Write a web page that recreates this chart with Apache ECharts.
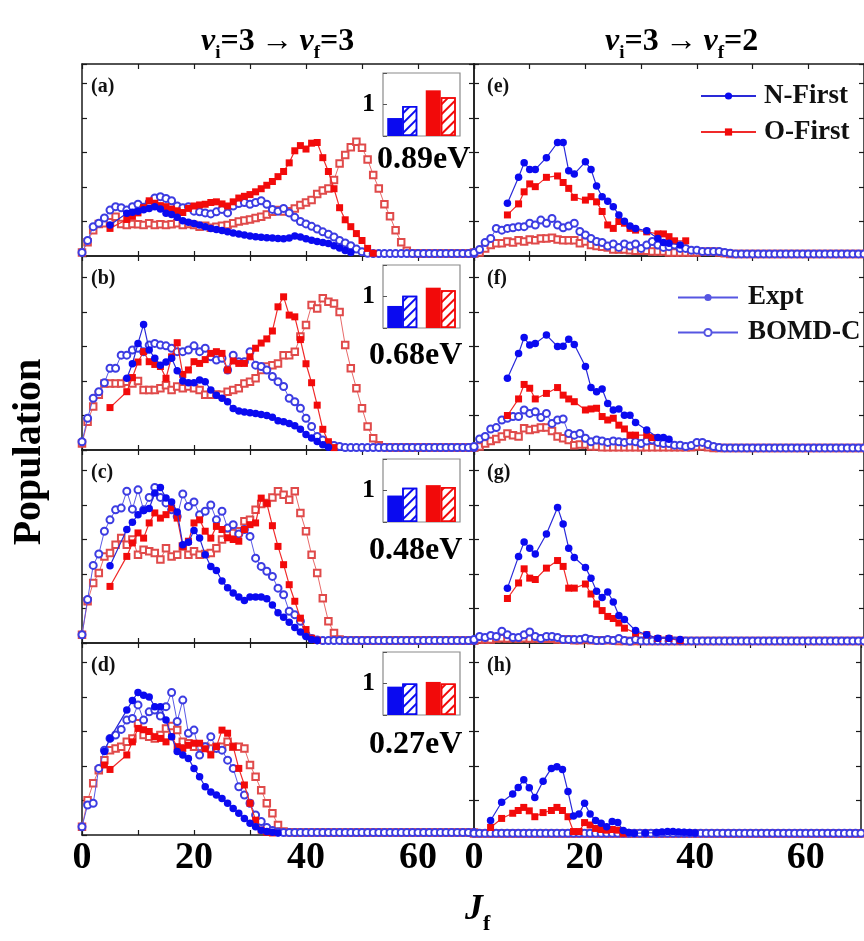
<!DOCTYPE html>
<html>
<head>
<meta charset="utf-8">
<script src="https://cdn.jsdelivr.net/npm/echarts@6.0.0/dist/echarts.min.js"></script>
<style>
html, body { margin: 0; padding: 0; background: #fff; }
#main { width: 864px; height: 941px; }
</style>
</head>
<body>
<div id="main"></div>
<script>
var SERIF = '"Liberation Serif", "Times New Roman", serif';

// J grid of the BOMD-C curves (0..70)
var jAll = [];
for (var j = 0; j <= 70; j++) jAll.push(j);

// ---- panel (a) ----
var jA = [5,8,9,10,11,12,13,14,15,16,17,18,19,20,21,22,23,24,25,26,27,28,29,30,31,32,33,34,35,36,37,38,39,40,41,42,43,44,45,46,47,48,49,50,51,52];
var aNExpt = [0.9,1.24,1.27,1.3,1.34,1.38,1.43,1.36,1.24,1.2,1.12,1.02,0.98,0.94,0.9,0.85,0.8,0.77,0.74,0.7,0.67,0.64,0.61,0.58,0.56,0.54,0.53,0.52,0.51,0.5,0.52,0.58,0.55,0.5,0.46,0.42,0.39,0.36,0.3,0.23,0.16,0.1];
var aOExpt = [0.8,1.06,1.15,1.25,1.4,1.6,1.53,1.46,1.43,1.36,1.31,1.26,1.38,1.45,1.48,1.5,1.55,1.57,1.51,1.45,1.57,1.68,1.73,1.78,1.86,1.95,2.05,2.16,2.3,2.45,2.7,3.05,3.2,3.1,3.27,3.29,2.85,2.45,1.95,1.4,1.05,0.85,0.65,0.45,0.22,0.08];
var aNBomd = [
  0.1,0.45,0.85,0.95,1.1,1.33,1.43,1.4,1.33,1.43,
  1.5,1.41,1.55,1.68,1.72,1.67,1.6,1.45,1.4,1.43,
  1.3,1.28,1.25,1.22,1.28,1.35,1.25,1.45,1.52,1.55,
  1.5,1.55,1.6,1.5,1.35,1.3,1.38,1.25,1.12,1.0,
  0.93,0.86,0.78,0.7,0.63,0.55,0.45,0.38,0.3,0.2,
  0.12,0.08,0.07,0.07,0.07,0.07,0.07,0.07,0.07,0.07,
  0.07,0.07,0.07,0.07,0.07,0.07,0.07,0.07,0.07,0.07,0.07];
var aOBomd = [
  0.1,0.4,0.75,0.93,0.95,0.98,1.14,0.93,0.9,0.93,
  0.92,0.9,0.95,0.9,0.92,0.9,0.92,0.95,0.9,0.93,
  0.9,0.85,0.88,0.82,0.85,0.88,0.9,0.95,1.0,1.03,
  1.06,1.1,1.14,1.2,1.28,1.33,1.29,1.3,1.38,1.48,
  1.55,1.62,1.8,1.9,1.96,2.2,2.68,2.93,3.15,3.31,
  3.14,2.8,2.35,1.96,1.5,1.15,0.75,0.4,0.15,0.08,
  0.07,0.07,0.07,0.07,0.07,0.07,0.07,0.07,0.07,0.07,0.07];

// ---- panel (b) ----
var jB = [5,8,9,10,11,12,13,14,15,16,17,18,19,20,21,22,23,24,25,26,27,28,29,30,31,32,33,34,35,36,37,38,39,40,41,42,43,44,45];
var bNExpt = [null,2.08,2.5,3.09,3.64,2.9,2.66,2.46,2.55,2.66,2.3,2.0,1.95,1.95,2.03,1.98,1.74,1.59,1.5,1.4,1.2,1.13,1.1,1.08,1.06,1.03,1.0,0.95,0.85,0.82,0.77,0.7,0.6,0.45,0.35,0.25,0.15,0.08];
var bOExpt = [1.23,1.69,2.1,2.55,2.85,2.56,2.48,2.42,2.08,2.7,3.11,2.19,2.32,2.56,2.51,2.62,2.8,2.85,2.8,2.32,2.58,2.51,2.51,2.7,2.95,3.1,3.22,3.45,4.15,4.44,3.91,3.86,3.2,2.5,1.95,1.3,0.6,0.24,0.07];
var bNBomd = [
  0.24,0.92,1.5,1.69,1.95,2.37,2.37,2.75,2.75,2.9,
  2.95,2.85,3.04,3.09,3.04,3.02,2.95,2.85,2.85,2.9,
  3.02,2.85,2.95,2.7,2.61,2.66,2.32,2.75,2.56,2.56,
  2.85,2.46,2.42,2.32,2.13,1.98,1.84,1.5,1.4,1.21,
  0.92,0.68,0.39,0.29,0.19,0.13,0.1,0.07,0.07,0.07,
  0.07,0.07,0.07,0.07,0.07,0.07,0.07,0.07,0.07,0.07,
  0.07,0.07,0.07,0.07,0.07,0.07,0.07,0.07,0.07,0.07,0.07];
var bOBomd = [
  0.19,0.82,1.26,1.6,1.93,1.93,1.93,1.93,1.98,1.93,
  2.0,1.74,1.74,1.74,1.79,1.88,1.74,1.84,1.79,1.84,
  1.79,1.74,1.6,1.6,1.61,1.6,1.69,1.74,1.79,1.93,
  1.98,2.08,2.32,2.42,2.46,2.51,2.75,2.75,2.85,3.29,
  3.62,4.2,4.1,4.4,4.3,4.25,4.0,3.04,2.37,1.79,
  1.21,0.68,0.34,0.14,0.08,0.07,0.07,0.07,0.07,0.07,
  0.07,0.07,0.07,0.07,0.07,0.07,0.07,0.07,0.07,0.07,0.07];

// ---- panel (c) ----
var jC = [5,8,9,10,11,12,13,14,15,16,17,18,19,20,21,22,23,24,25,26,27,28,29,30,31,32,33,34,35,36,37,38,39,40,41,42];
var cNExpt = [2.24,3.29,3.5,3.72,3.84,3.9,4.35,4.51,4.2,4.09,3.8,2.85,2.92,3.26,3.04,2.56,2.22,2.1,1.8,1.6,1.45,1.33,1.23,1.33,1.33,1.33,1.28,1.1,0.88,0.75,0.6,0.45,0.32,0.19,0.1,0.07];
var cOExpt = [1.64,2.51,2.9,3.19,3.04,3.48,3.77,3.62,3.72,3.91,3.62,2.8,2.95,3.48,3.57,3.24,3.04,3.38,3.29,3.05,3.0,2.95,3.29,3.43,3.48,4.2,4.05,3.4,2.8,2.27,1.69,1.21,0.72,0.39,0.14,0.08];
var cNBomd = [
  0.24,1.26,2.25,2.58,3.24,3.57,3.86,3.91,4.4,3.88,
  4.44,3.86,4.22,4.51,4.22,4.06,3.86,3.67,4.32,3.96,
  4.09,3.72,3.82,4.0,3.57,3.82,3.33,3.43,3.16,3.29,
  3.09,2.46,2.22,2.08,1.93,1.59,1.4,0.92,0.82,0.63,
  0.24,0.13,0.09,0.07,0.07,0.07,0.07,0.07,0.07,0.07,
  0.07,0.07,0.07,0.07,0.07,0.07,0.07,0.07,0.07,0.07,
  0.07,0.07,0.07,0.07,0.07,0.07,0.07,0.07,0.07,0.07,0.07];
var cOBomd = [
  0.24,1.21,1.74,2.03,2.51,2.61,2.85,3.04,2.85,3.0,
  2.56,2.7,2.66,2.61,2.42,2.75,2.51,2.56,2.8,2.56,
  2.66,2.56,2.58,2.61,2.75,3.0,3.14,3.19,3.24,3.53,
  3.57,3.86,4.03,4.06,4.22,4.4,4.3,4.15,4.4,3.77,
  3.24,2.56,2.03,1.3,0.63,0.29,0.1,0.07,0.07,0.07,
  0.07,0.07,0.07,0.07,0.07,0.07,0.07,0.07,0.07,0.07,
  0.07,0.07,0.07,0.07,0.07,0.07,0.07,0.07,0.07,0.07,0.07];

// ---- panel (d) ----
var jD = [4,5,8,9,10,11,12,13,14,15,16,17,18,19,20,21,22,23,24,25,26,27,28,29,30,31,32,33,34,35];
var dNExpt = [2.42,2.8,3.62,3.9,4.13,4.05,4.0,3.72,3.72,3.33,2.85,2.42,2.32,2.22,1.93,1.69,1.4,1.25,1.16,1.06,0.92,0.77,0.63,0.48,0.34,0.24,0.14,0.1,0.08,0.06];
var dOExpt = [2.03,1.9,2.32,2.7,3.09,3.05,3.0,2.85,2.8,2.7,2.85,2.56,2.51,2.6,2.66,2.66,2.5,2.32,2.56,3.04,2.95,2.56,1.93,1.45,0.92,0.43,0.14,0.08,0.06];
var dNBomd = [
  0.24,0.87,0.92,1.93,2.46,2.8,2.9,3.06,3.33,3.38,
  3.77,3.33,3.57,3.62,3.45,3.72,4.13,3.29,3.91,2.95,
  3.04,2.32,2.56,2.85,2.51,2.46,2.17,1.93,1.4,1.16,
  0.92,0.58,0.39,0.22,0.13,0.09,0.07,0.07,0.07,0.07,
  0.07,0.07,0.07,0.07,0.07,0.07,0.07,0.07,0.07,0.07,
  0.07,0.07,0.07,0.07,0.07,0.07,0.07,0.07,0.07,0.07,
  0.07,0.07,0.07,0.07,0.07,0.07,0.07,0.07,0.07,0.07,0.07];
var dOBomd = [
  0.24,1.01,1.5,1.88,2.17,2.46,2.51,2.56,2.7,2.8,
  3.24,2.9,2.85,2.8,2.9,3.09,3.16,3.04,2.7,2.66,
  2.56,2.56,2.56,2.51,2.56,2.56,2.7,2.56,2.56,2.51,
  2.03,1.69,1.3,0.92,0.63,0.29,0.1,0.08,0.07,0.07,
  0.07,0.07,0.07,0.07,0.07,0.07,0.07,0.07,0.07,0.07,
  0.07,0.07,0.07,0.07,0.07,0.07,0.07,0.07,0.07,0.07,
  0.07,0.07,0.07,0.07,0.07,0.07,0.07,0.07,0.07,0.07,0.07];

// ---- panel (e) ----
var jE = [6,8,9,10,11,13,15,16,17,18,20,21,22,23,24,25,26,27,28,29,31,33,34,35,36,37,38];
var eNExpt = [1.53,2.28,2.7,2.51,2.51,2.85,3.29,3.29,2.47,2.38,2.73,2.51,2.03,1.72,1.59,1.43,1.19,1.01,0.87,0.8,0.73,0.51,0.39,0.37,null,0.32,null];
var eOExpt = [1.19,1.51,1.86,2.09,2.01,2.28,2.32,2.13,1.96,1.7,1.62,1.72,1.57,1.29,0.9,0.8,1.0,0.95,0.8,0.75,0.7,0.64,0.64,0.56,0.44,null,0.44];
var eNBomd = [
  0.1,0.19,0.39,0.51,0.8,0.75,0.8,0.82,0.85,0.85,
  0.95,0.9,1.04,0.95,1.09,0.9,0.82,0.87,0.95,0.71,
  0.61,0.51,0.42,0.39,0.29,0.35,0.25,0.35,0.29,0.35,
  0.22,0.32,0.42,0.32,0.25,0.27,0.32,0.22,0.22,0.17,
  0.17,0.13,0.13,0.13,0.13,0.1,0.08,0.06,0.06,0.06,
  0.06,0.06,0.06,0.06,0.06,0.06,0.06,0.06,0.06,0.06,
  0.06,0.06,0.06,0.06,0.06,0.06,0.06,0.06,0.06,0.06,0.06];
var eOBomd = [
  0.1,0.1,0.22,0.32,0.37,0.37,0.42,0.39,0.46,0.42,
  0.48,0.46,0.51,0.51,0.53,0.48,0.46,0.46,0.46,0.37,
  0.42,0.32,0.29,0.27,0.25,0.19,0.19,0.19,0.17,0.15,
  0.15,0.15,0.13,0.13,0.13,0.1,0.1,0.1,0.1,0.1,
  0.1,0.12,0.12,0.13,0.1,0.08,0.06,0.06,0.06,0.06,
  0.06,0.06,0.06,0.06,0.06,0.06,0.06,0.06,0.06,0.06,
  0.06,0.06,0.06,0.06,0.06,0.06,0.06,0.06,0.06,0.06,0.06];

// ---- panel (f) ----
var jF = [6,8,9,10,11,13,15,16,17,18,20,21,22,23,24,25,26,27,28,29,31,32,33,34,35];
var fNExpt = [2.08,2.8,3.26,3.04,3.09,3.33,3.0,3.01,3.21,3.06,2.42,1.81,1.69,1.77,1.35,1.16,1.19,1.01,1.01,0.8,0.58,null,0.36,0.36,0.31];
var fOExpt = [1.0,1.48,1.9,1.79,1.48,1.64,1.81,1.59,1.48,1.4,1.16,1.19,1.21,0.97,0.87,0.92,0.72,0.61,0.43,0.43,0.43,0.36];
var fNBomd = [
  0.1,0.32,0.39,0.61,0.65,0.87,0.92,0.97,0.97,1.16,
  1.06,1.11,0.94,1.06,0.77,0.87,0.9,0.48,0.43,0.48,
  0.34,0.24,0.29,0.26,0.22,0.26,0.24,0.22,0.26,0.24,
  0.19,0.26,0.29,0.22,0.19,0.19,0.14,0.14,0.1,0.13,
  0.22,0.22,0.16,0.1,0.07,0.06,0.06,0.06,0.06,0.06,
  0.06,0.06,0.06,0.06,0.06,0.06,0.06,0.06,0.06,0.06,
  0.06,0.06,0.06,0.06,0.06,0.06,0.06,0.06,0.06,0.06,0.06];
var fOBomd = [
  0.08,0.1,0.19,0.26,0.32,0.39,0.48,0.43,0.39,0.63,
  0.58,0.61,0.65,0.65,0.55,0.39,0.34,0.29,0.14,0.16,
  0.16,0.1,0.1,0.08,0.08,0.08,0.08,0.08,0.08,0.08,
  0.08,0.08,0.08,0.08,0.08,0.08,0.08,0.08,0.08,0.08,
  0.1,0.1,0.08,0.06,0.06,0.06,0.06,0.06,0.06,0.06,
  0.06,0.06,0.06,0.06,0.06,0.06,0.06,0.06,0.06,0.06,
  0.06,0.06,0.06,0.06,0.06,0.06,0.06,0.06,0.06,0.06,0.06];

// ---- panel (g) ----
var jG = [6,8,9,10,11,13,15,16,17,18,20,21,22,23,24,25,26,27,29,31,33,35,37];
var gNExpt = [1.59,2.51,2.93,2.75,2.58,3.16,3.93,3.45,2.75,2.48,2.19,1.88,1.5,1.32,1.48,1.19,0.8,0.68,0.36,0.24,0.14,0.14,0.1];
var gOExpt = [1.29,1.74,2.15,1.88,1.84,2.17,2.39,2.22,1.59,1.59,1.71,1.42,1.13,0.94,0.77,0.71,0.58,0.43,0.29,0.24,0.13,0.13,0.07];
var gNBomd = [
  0.1,0.19,0.16,0.22,0.19,0.34,0.24,0.16,0.16,0.24,
  0.32,0.19,0.13,0.19,0.19,0.16,0.1,0.1,0.1,0.1,
  0.14,0.1,0.07,0.07,0.1,0.07,0.13,0.07,0.05,0.1,
  0.06,0.06,0.06,0.06,0.06,0.06,0.06,0.06,0.06,0.06,
  0.06,0.06,0.06,0.06,0.06,0.06,0.06,0.06,0.06,0.06,
  0.06,0.06,0.06,0.06,0.06,0.06,0.06,0.06,0.06,0.06,
  0.06,0.06,0.06,0.06,0.06,0.06,0.06,0.06,0.06,0.06,0.06];
var gOBomd = [
  0.07,0.1,0.1,0.1,0.13,0.14,0.13,0.14,0.13,0.14,
  0.13,0.13,0.12,0.12,0.12,0.1,0.1,0.1,0.08,0.08,
  0.1,0.08,0.08,0.08,0.08,0.08,0.06,0.06,0.06,0.06,
  0.06,0.06,0.06,0.06,0.06,0.06,0.06,0.06,0.06,0.06,
  0.06,0.06,0.06,0.06,0.06,0.06,0.06,0.06,0.06,0.06,
  0.06,0.06,0.06,0.06,0.06,0.06,0.06,0.06,0.06,0.06,
  0.06,0.06,0.06,0.06,0.06,0.06,0.06,0.06,0.06,0.06,0.06];

// ---- panel (h) ----
var jH = [3,5,7,8,9,10,11,12.5,14,15,16,17,18,19,20,21,22,23,24,25,26,27,28,29,31,33,34,35,36,37,38,39,40];
var hNExpt = [0.42,0.95,1.19,1.38,1.6,1.37,1.09,1.56,1.93,1.98,1.9,1.26,0.55,0.61,0.92,0.61,0.42,0.34,0.24,0.39,0.36,0.13,0.07,0.05,0.06,0.07,0.09,0.1,0.1,0.09,0.08,0.07,0.06];
var hOExpt = [0.22,0.48,0.63,0.71,0.8,0.7,0.53,0.65,0.71,0.8,0.71,0.53,0.1,0.1,0.36,0.29,0.19,0.16,0.14,0.16,0.14,0.05];
var hNBomd = [
  0.05,0.05,0.05,0.05,0.05,0.05,0.05,0.05,0.05,0.05,
  0.05,0.05,0.05,0.05,0.05,0.05,0.05,0.05,0.05,0.05,
  0.05,0.05,0.05,0.05,0.05,0.05,0.05,0.05,0.05,0.05,
  0.05,0.05,0.05,0.05,0.05,0.05,0.05,0.05,0.05,0.05,
  0.05,0.05,0.05,0.05,0.05,0.05,0.05,0.05,0.05,0.05,
  0.05,0.05,0.05,0.05,0.05,0.05,0.05,0.05,0.05,0.05,
  0.05,0.05,0.05,0.05,0.05,0.05,0.05,0.05,0.05,0.05,0.05];
var hOBomd = [
  0.04,0.04,0.04,0.04,0.04,0.04,0.04,0.04,0.04,0.04,
  0.04,0.04,0.04,0.04,0.04,0.04,0.04,0.04,0.04,0.04,
  0.04,0.04,0.04,0.04,0.04,0.04,0.04,0.04,0.04,0.04,
  0.04,0.04,0.04,0.04,0.04,0.04,0.04,0.04,0.04,0.04,
  0.04,0.04,0.04,0.04,0.04,0.04,0.04,0.04,0.04,0.04,
  0.04,0.04,0.04,0.04,0.04,0.04,0.04,0.04,0.04,0.04,
  0.04,0.04,0.04,0.04,0.04,0.04,0.04,0.04,0.04,0.04,0.04];

// ---- insets (a)-(d): [N-First, O-First] ----
var insetCats = ['N-First', 'O-First'];
var insetExpt = [[0.57, 1.45], [0.7, 1.28], [0.84, 1.17], [0.9, 1.05]];
var insetBomd = [[0.95, 1.23], [1.02, 1.2], [1.09, 1.11], [1.0, 1.0]];
var energies = ['0.89eV', '0.68eV', '0.48eV', '0.27eV'];
var panelLabels = ['(a)', '(b)', '(c)', '(d)', '(e)', '(f)', '(g)', '(h)'];
var xTicks = [0, 20, 40, 60];

var panels = [
  {jx: jA, n: aNExpt, o: aOExpt, nb: aNBomd, ob: aOBomd},
  {jx: jB, n: bNExpt, o: bOExpt, nb: bNBomd, ob: bOBomd},
  {jx: jC, n: cNExpt, o: cOExpt, nb: cNBomd, ob: cOBomd},
  {jx: jD, n: dNExpt, o: dOExpt, nb: dNBomd, ob: dOBomd},
  {jx: jE, n: eNExpt, o: eOExpt, nb: eNBomd, ob: eOBomd},
  {jx: jF, n: fNExpt, o: fOExpt, nb: fNBomd, ob: fOBomd},
  {jx: jG, n: gNExpt, o: gOExpt, nb: gNBomd, ob: gOBomd},
  {jx: jH, n: hNExpt, o: hOExpt, nb: hNBomd, ob: hOBomd}
];

var BLUE = '#0a0af0', RED = '#f20a0a';
var colLeft = [82, 474];
var rowTop = [64, 256, 450, 643];
var rowH = [192, 194, 193, 192];
var unit = 34.5;

function pairs(js, vs) {
  return vs.map(function (v, i) { return [js[i], v]; });
}

var grids = [], xAxes = [], yAxes = [], series = [], titles = [];
var frameLine = {show: true, onZero: false, lineStyle: {color: '#1a1a1a', width: 1.5}};
var tick = {show: true, inside: true, length: 5, lineStyle: {color: '#1a1a1a', width: 1.2}};

panels.forEach(function (p, k) {
  var col = k < 4 ? 0 : 1, row = k % 4;
  var g = grids.length;
  grids.push({left: colLeft[col], top: rowTop[row], width: 392, height: rowH[row]});
  var ymax = rowH[row] / unit;
  xAxes.push({
    gridIndex: g, type: 'value', position: 'bottom', min: 0, max: 70, interval: 10,
    axisLine: frameLine, axisTick: tick, splitLine: {show: false},
    axisLabel: {
      show: row === 3, margin: 4, fontFamily: SERIF, fontWeight: 'bold', fontSize: 38, color: '#000',
      formatter: function (v) { return xTicks.indexOf(v) >= 0 ? String(v) : ''; }
    }
  });
  xAxes.push({
    gridIndex: g, type: 'value', position: 'top', min: 0, max: 70, interval: 10,
    axisLine: frameLine, axisTick: tick, splitLine: {show: false}, axisLabel: {show: false}
  });
  ['left', 'right'].forEach(function (pos) {
    yAxes.push({
      gridIndex: g, type: 'value', position: pos, min: 0, max: ymax, interval: 1,
      axisLine: frameLine, axisTick: tick, splitLine: {show: false}, axisLabel: {show: false}
    });
  });
  var xi = g * 2, yi = g * 2;
  var base = panelLabels[k] + ' ';
  var nName = k === 4 ? 'N-First' : (k === 5 ? 'Expt' : base + 'N Expt');
  var oName = k === 4 ? 'O-First' : base + 'O Expt';
  var nbName = k === 5 ? 'BOMD-C' : base + 'N BOMD-C';
  series.push({
    name: base + 'O BOMD-C', type: 'line', xAxisIndex: xi, yAxisIndex: yi,
    data: pairs(jAll, p.ob), symbol: 'emptyRect', symbolSize: 6.5, showAllSymbol: true,
    itemStyle: {color: '#e04a4a', borderWidth: 1}, lineStyle: {color: '#e86a6a', width: 1}, z: 2
  });
  series.push({
    name: nbName, type: 'line', xAxisIndex: xi, yAxisIndex: yi,
    data: pairs(jAll, p.nb), symbol: 'emptyCircle', symbolSize: 7, showAllSymbol: true,
    itemStyle: {color: '#3c3ce2', borderWidth: 1}, lineStyle: {color: '#5a5ae6', width: 1}, z: 3
  });
  series.push({
    name: oName, type: 'line', xAxisIndex: xi, yAxisIndex: yi, connectNulls: true,
    data: pairs(p.jx, p.o), symbol: 'rect', symbolSize: 7, showAllSymbol: true,
    itemStyle: {color: RED}, lineStyle: {color: '#f02a2a', width: 1.2}, z: 4
  });
  series.push({
    name: nName, type: 'line', xAxisIndex: xi, yAxisIndex: yi, connectNulls: true,
    data: pairs(p.jx, p.n), symbol: 'circle', symbolSize: 7.5, showAllSymbol: true,
    itemStyle: {color: BLUE}, lineStyle: {color: '#2a2ad8', width: 1.2}, z: 5
  });
  titles.push({
    text: panelLabels[k], left: colLeft[col] + (col === 0 ? 4 : 8), top: rowTop[row] + 8,
    textStyle: {fontFamily: SERIF, fontWeight: 'bold', fontSize: 20, color: '#111'}
  });
});

// insets with the total populations
var energyTop = [139, 335, 530, 724];
var energyLeft = [372, 364, 364, 364];
insetExpt.forEach(function (vals, r) {
  var g = grids.length;
  grids.push({
    left: 383, top: rowTop[r] + 9, width: 77, height: 63, show: true,
    borderColor: '#8a8a8a', borderWidth: 1.2, backgroundColor: '#fff'
  });
  xAxes.push({
    gridIndex: g, type: 'category', data: insetCats,
    axisLine: {show: false}, axisTick: {show: false}, axisLabel: {show: false}
  });
  yAxes.push({
    gridIndex: g, type: 'value', min: 0, max: 2, interval: 1,
    axisLine: {show: false}, splitLine: {show: false},
    axisTick: {show: true, inside: true, length: 4, lineStyle: {color: '#555'}},
    axisLabel: {
      margin: 8, fontFamily: SERIF, fontWeight: 'bold', fontSize: 26, color: '#000',
      formatter: function (v) { return v === 1 ? '1' : ''; }
    }
  });
  var cols = [BLUE, RED];
  series.push({
    type: 'bar', xAxisIndex: xAxes.length - 1, yAxisIndex: yAxes.length - 1,
    barWidth: 15, barGap: '0%', z: 6,
    data: vals.map(function (v, i) { return {value: v, itemStyle: {color: cols[i]}}; })
  });
  series.push({
    type: 'bar', xAxisIndex: xAxes.length - 1, yAxisIndex: yAxes.length - 1,
    barWidth: 15, barGap: '0%', z: 6,
    data: insetBomd[r].map(function (v, i) {
      return {value: v, itemStyle: {
        color: '#fff', borderColor: cols[i], borderWidth: 1.5,
        decal: {symbol: 'rect', symbolSize: 1, color: cols[i], dashArrayX: [1, 0], dashArrayY: [1.5, 5], rotation: -Math.PI / 4}
      }};
    })
  });
  titles.push({
    text: energies[r], left: energyLeft[r], top: energyTop[r],
    textStyle: {fontFamily: SERIF, fontWeight: 'bold', fontSize: 32, color: '#000'}
  });
});

// column headings and x axis name
var sub = {fontFamily: SERIF, fontWeight: 'bold', fontSize: 19, color: '#000', verticalAlign: 'bottom', lineHeight: 19};
var richHead = {
  v: {fontFamily: SERIF, fontWeight: 'bold', fontStyle: 'italic', fontSize: 32, color: '#000', lineHeight: 42},
  n: {fontFamily: SERIF, fontWeight: 'bold', fontSize: 32, color: '#000', lineHeight: 42},
  s: sub
};
titles.push({text: '{v|v}{s|i}{n|=3\u2009\u2192\u2009}{v|v}{s|f}{n|=3}', left: 196, top: 16, textStyle: {rich: richHead}});
titles.push({text: '{v|v}{s|i}{n|=3\u2009\u2192\u2009}{v|v}{s|f}{n|=2}', left: 600, top: 16, textStyle: {rich: richHead}});
titles.push({
  text: '{j|J}{s|f}', left: 460, top: 880,
  textStyle: {rich: {
    j: {fontFamily: SERIF, fontWeight: 'bold', fontStyle: 'italic', fontSize: 36, color: '#000', lineHeight: 50},
    s: {fontFamily: SERIF, fontWeight: 'bold', fontSize: 22, color: '#000', verticalAlign: 'bottom', lineHeight: 22}
  }}
});

var legendText = {fontFamily: SERIF, fontWeight: 'bold', fontSize: 27, color: '#111', lineHeight: 36, padding: [0, 0, 0, 3]};
var LIGHT = '#5656e2';

var option = {
  animation: false,
  backgroundColor: '#fff',
  title: titles,
  grid: grids,
  xAxis: xAxes,
  yAxis: yAxes,
  series: series,
  legend: [
    {
      data: ['N-First', 'O-First'], orient: 'vertical', left: 700, top: 78, padding: 0,
      itemWidth: 55, itemHeight: 9, itemGap: 0, selectedMode: false, textStyle: legendText
    },
    {
      data: [
        {name: 'Expt', itemStyle: {color: LIGHT}, lineStyle: {color: LIGHT}},
        {name: 'BOMD-C', itemStyle: {color: LIGHT}, lineStyle: {color: LIGHT}}
      ],
      orient: 'vertical', left: 677, top: 280, padding: 0,
      itemWidth: 60, itemHeight: 9, itemGap: 0, selectedMode: false,
      textStyle: Object.assign({}, legendText, {lineHeight: 35, padding: [0, 0, 0, 5]})
    }
  ],
  graphic: [{
    type: 'text', x: 30, y: 452, rotation: Math.PI / 2,
    style: {text: 'Population', fontFamily: SERIF, fontWeight: 'bold', fontSize: 40, fill: '#000', align: 'center', verticalAlign: 'middle'}
  }]
};

var chart = echarts.init(document.getElementById('main'));
chart.setOption(option);
</script>
</body>
</html>
